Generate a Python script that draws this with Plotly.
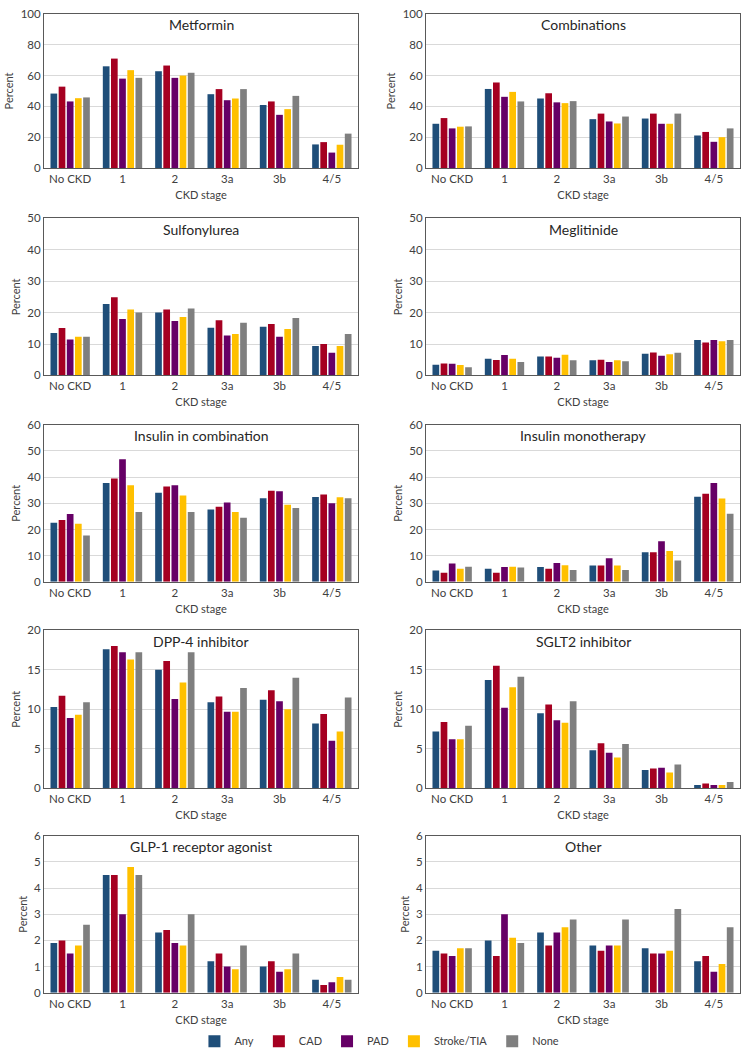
import plotly.graph_objects as go

W, H = 744, 1058

stages = ["No CKD", "1", "2", "3a", "3b", "4/5"]
groups = ["Any", "CAD", "PAD", "Stroke/TIA", "None"]
colors = ["#1F4E79", "#A50021", "#660066", "#FFC000", "#7F7F7F"]

# values per group (Any, CAD, PAD, Stroke/TIA, None) across CKD stages
metformin = [
    [48.3, 66.0, 62.8, 47.9, 40.9, 15.3],
    [52.8, 71.0, 66.5, 51.2, 43.2, 16.8],
    [43.2, 58.0, 58.5, 44.0, 34.5, 10.0],
    [45.3, 63.5, 60.0, 45.1, 38.2, 15.1],
    [45.8, 58.5, 61.8, 51.2, 46.8, 22.3],
]
combinations = [
    [28.7, 51.3, 45.1, 31.7, 32.1, 21.1],
    [32.4, 55.5, 48.5, 35.3, 35.3, 23.4],
    [25.7, 46.2, 42.6, 30.2, 28.7, 17.0],
    [26.8, 49.4, 42.1, 28.9, 28.7, 20.0],
    [27.0, 43.2, 43.4, 33.4, 35.3, 25.7],
]
sulfonylurea = [
    [13.5, 22.7, 20.0, 15.2, 15.5, 9.4],
    [15.1, 24.9, 21.0, 17.6, 16.4, 10.0],
    [11.4, 18.0, 17.3, 12.7, 12.3, 7.2],
    [12.3, 21.0, 18.6, 13.2, 14.8, 9.4],
    [12.3, 20.0, 21.3, 16.8, 18.3, 13.2],
]
meglitinide = [
    [3.4, 5.3, 6.0, 4.8, 6.9, 11.3],
    [3.8, 4.9, 6.0, 5.0, 7.3, 10.5],
    [3.7, 6.5, 5.6, 4.3, 6.3, 11.3],
    [3.3, 5.3, 6.6, 4.8, 6.7, 10.9],
    [2.6, 4.3, 4.8, 4.5, 7.2, 11.3],
]
insulin_comb = [
    [22.6, 37.8, 34.0, 27.6, 31.9, 32.4],
    [23.6, 39.5, 36.4, 28.7, 34.8, 33.4],
    [25.9, 46.8, 36.9, 30.3, 34.6, 30.0],
    [22.2, 36.9, 33.0, 26.7, 29.5, 32.3],
    [17.7, 26.7, 26.7, 24.5, 28.2, 31.9],
]
insulin_mono = [
    [4.3, 5.0, 5.7, 6.2, 11.3, 32.5],
    [3.5, 3.5, 5.0, 6.2, 11.3, 33.7],
    [7.0, 5.7, 7.2, 9.0, 15.5, 37.8],
    [5.0, 5.8, 6.3, 6.2, 11.8, 31.8],
    [5.8, 5.5, 4.5, 4.5, 8.2, 26.0],
]
dpp4 = [
    [10.3, 17.6, 15.0, 10.9, 11.2, 8.2],
    [11.7, 18.0, 16.1, 11.6, 12.4, 9.4],
    [8.9, 17.2, 11.3, 9.7, 11.0, 6.0],
    [9.3, 16.3, 13.4, 9.7, 10.0, 7.2],
    [10.9, 17.2, 17.2, 12.7, 14.0, 11.5],
]
sglt2 = [
    [7.2, 13.7, 9.5, 4.8, 2.3, 0.4],
    [8.4, 15.5, 10.6, 5.7, 2.5, 0.6],
    [6.2, 10.2, 8.6, 4.5, 2.6, 0.4],
    [6.2, 12.8, 8.3, 3.9, 2.0, 0.4],
    [7.9, 14.1, 11.0, 5.6, 3.0, 0.8],
]
glp1 = [
    [1.9, 4.5, 2.3, 1.2, 1.0, 0.5],
    [2.0, 4.5, 2.4, 1.5, 1.2, 0.3],
    [1.5, 3.0, 1.9, 1.0, 0.8, 0.4],
    [1.8, 4.8, 1.8, 0.9, 0.9, 0.6],
    [2.6, 4.5, 3.0, 1.8, 1.5, 0.5],
]
other = [
    [1.6, 2.0, 2.3, 1.8, 1.7, 1.2],
    [1.5, 1.4, 1.8, 1.6, 1.5, 1.4],
    [1.4, 3.0, 2.3, 1.8, 1.5, 0.8],
    [1.7, 2.1, 2.5, 1.8, 1.6, 1.1],
    [1.7, 1.9, 2.8, 2.8, 3.2, 2.5],
]

panel_titles = ["Metformin", "Combinations", "Sulfonylurea", "Meglitinide",
                "Insulin in combination", "Insulin monotherapy",
                "DPP-4 inhibitor", "SGLT2 inhibitor",
                "GLP-1 receptor agonist", "Other"]
panel_data = [metformin, combinations, sulfonylurea, meglitinide,
              insulin_comb, insulin_mono, dpp4, sglt2, glp1, other]
y_max = [100, 100, 50, 50, 60, 60, 20, 20, 6, 6]
y_step = [20, 20, 10, 10, 10, 10, 5, 5, 1, 1]

# layout geometry (pixels)
col_x = [(44, 358), (426, 740)]
row_y = [(7, 163), (214, 373), (423, 582), (631, 791), (839, 998)]

FONT = "Lato, 'Open Sans', sans-serif"
TXT = "#404040"

fig = go.Figure()
annotations = []
layout = {}

for i, (title, data) in enumerate(zip(panel_titles, panel_data)):
    r, c = divmod(i, 2)
    x0, x1 = col_x[c]
    top, bot = row_y[r]
    n = i + 1
    xa = "x" if n == 1 else f"x{n}"
    ya = "y" if n == 1 else f"y{n}"
    for g, (name, col) in enumerate(zip(groups, colors)):
        fig.add_trace(go.Bar(
            x=stages, y=data[g], name=name, marker_color=col,
            marker_line_width=0, xaxis=xa, yaxis=ya,
            showlegend=(i == 0), legendgroup=name,
        ))
    layout[f"xaxis{n}"] = dict(
        domain=[x0 / W, x1 / W], anchor=ya,
        showline=True, mirror=True, linecolor="#595959", linewidth=1,
        ticks="", showgrid=False,
        tickfont=dict(size=11.5, color=TXT, family=FONT),
        title=dict(text="CKD stage", font=dict(size=11, color=TXT, family=FONT), standoff=7),
    )
    layout[f"yaxis{n}"] = dict(
        domain=[1 - bot / H, 1 - top / H], anchor=xa,
        range=[0, y_max[i]], dtick=y_step[i], tick0=0,
        showline=True, mirror=True, linecolor="#595959", linewidth=1,
        showgrid=True, gridcolor="#D9D9D9", gridwidth=1, zeroline=False,
        ticks="", tickfont=dict(size=11.5, color=TXT, family=FONT),
        title=dict(text="Percent", font=dict(size=11, color=TXT, family=FONT), standoff=4),
    )
    annotations.append(dict(
        text=title, x=(x0 + x1) / 2 / W, y=1 - (top + 11) / H,
        xref="paper", yref="paper", xanchor="center", yanchor="middle",
        showarrow=False, font=dict(size=14, color="#262626", family=FONT),
    ))

fig.update_layout(
    width=W, height=H,
    margin=dict(l=0, r=0, t=0, b=0),
    paper_bgcolor="white", plot_bgcolor="white",
    barmode="group", bargap=0.22, bargroupgap=0.18,
    annotations=annotations,
    legend=dict(orientation="h", x=0.51, xanchor="center",
                y=1 - 1047 / H, yanchor="middle",
                font=dict(size=11, color=TXT, family=FONT),
                itemwidth=30, traceorder="normal"),
    font=dict(family=FONT),
    **layout,
)

fig.write_html("out.html",
               config={"displayModeBar": False},
               post_script="document.body.style.margin='0';document.body.style.overflow='hidden';")
